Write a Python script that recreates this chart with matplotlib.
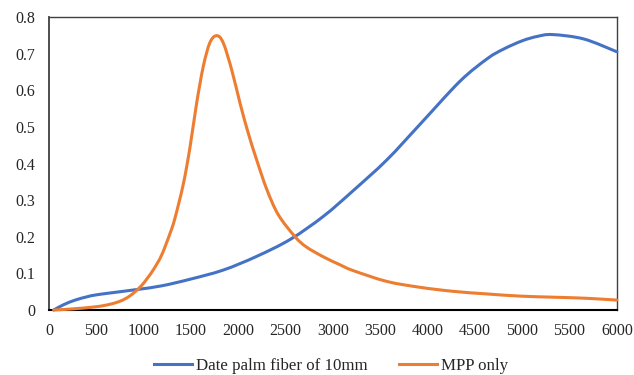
import matplotlib
matplotlib.use("Agg")
import matplotlib.pyplot as plt
import numpy as np
from matplotlib.path import Path
from matplotlib.patches import PathPatch
from matplotlib.lines import Line2D

plt.rcParams['font.family'] = ['Liberation Serif', 'DejaVu Serif']

blue_x = [50, 150, 275, 400, 490, 660, 930, 1190, 1490, 1840, 2190, 2550, 2900, 3210,
          3570, 3920, 4340, 4630, 4800, 5000, 5160, 5320, 5650, 6000]
blue_y = [0.0, 0.014, 0.027, 0.036, 0.041, 0.047, 0.056, 0.066, 0.084, 0.109, 0.146,
          0.193, 0.256, 0.325, 0.41, 0.507, 0.624, 0.686, 0.712, 0.735, 0.747, 0.752,
          0.740, 0.705]

orange_x = [50, 250, 500, 650, 760, 840, 910, 975, 1040, 1110, 1190, 1280, 1330, 1420,
            1490, 1560, 1630, 1700, 1771, 1840, 1930, 2018, 2105, 2194, 2300, 2423, 2600,
            2720, 2900, 3070, 3210, 3570, 3920, 4270, 4620, 4975, 5325, 5680, 6000]
orange_y = [0.0, 0.003, 0.009, 0.016, 0.025, 0.036, 0.050, 0.066, 0.087, 0.113, 0.15,
            0.21, 0.25, 0.345, 0.445, 0.565, 0.665, 0.73, 0.749, 0.73, 0.656, 0.565,
            0.483, 0.41, 0.33, 0.26, 0.20, 0.172, 0.145, 0.124, 0.108, 0.078, 0.062,
            0.051, 0.044, 0.038, 0.035, 0.032, 0.027]

series_labels = ["Date palm fiber of 10mm", "MPP only"]
x_ticks = [0, 500, 1000, 1500, 2000, 2500, 3000, 3500, 4000, 4500, 5000, 5500, 6000]
y_ticks = [0, 0.1, 0.2, 0.3, 0.4, 0.5, 0.6, 0.7, 0.8]

BLUE = '#4472C4'
ORANGE = '#ED7D31'


def smooth_path(xs, ys):
    """Excel-style smoothed line: cubic Bezier segments through the data points."""
    p = np.column_stack([xs, ys]).astype(float)
    n = len(p)
    verts = [p[0]]
    codes = [Path.MOVETO]
    for i in range(n - 1):
        p0 = p[i - 1] if i > 0 else p[i]
        p1 = p[i]
        p2 = p[i + 1]
        p3 = p[i + 2] if i + 2 < n else p[i + 1]
        c1 = p1 + (p2 - p0) / 6.0
        c2 = p2 - (p3 - p1) / 6.0
        verts += [c1, c2, p2]
        codes += [Path.CURVE4] * 3
    return Path(verts, codes)


fig = plt.figure(figsize=(6.34, 3.75), dpi=100)
ax = fig.add_axes([0.0773, 0.1733, 0.8957, 0.7814])

for xs, ys, c in [(blue_x, blue_y, BLUE), (orange_x, orange_y, ORANGE)]:
    patch = PathPatch(smooth_path(xs, ys), facecolor='none', edgecolor=c, lw=2.2,
                      capstyle='round', joinstyle='round', clip_on=False, zorder=3)
    ax.add_patch(patch)

ax.set_xlim(0, 6000)
ax.set_ylim(0, 0.8)
ax.set_xticks(x_ticks)
ax.set_yticks(y_ticks)
ax.set_yticklabels(['0' if v == 0 else f'{v:g}' for v in y_ticks])
ax.tick_params(length=0, labelsize=11.5, colors='#262626')
ax.tick_params(axis='x', pad=9)
ax.tick_params(axis='y', pad=10)

for s in ax.spines.values():
    s.set_color('#404040')
    s.set_linewidth(1.0)
ax.spines['bottom'].set_color('#000000')
ax.spines['bottom'].set_linewidth(1.5)
ax.spines['left'].set_linewidth(1.3)

handles = [Line2D([], [], color=BLUE, lw=2.2), Line2D([], [], color=ORANGE, lw=2.2)]
fig.legend(handles, series_labels, loc='center', bbox_to_anchor=(0.522, 0.024), ncol=2,
           frameon=False, fontsize=12.2, handlelength=2.25, columnspacing=1.85,
           handletextpad=0.25, borderpad=0.0, labelcolor='#262626')

fig.savefig('out.png', dpi=100)
